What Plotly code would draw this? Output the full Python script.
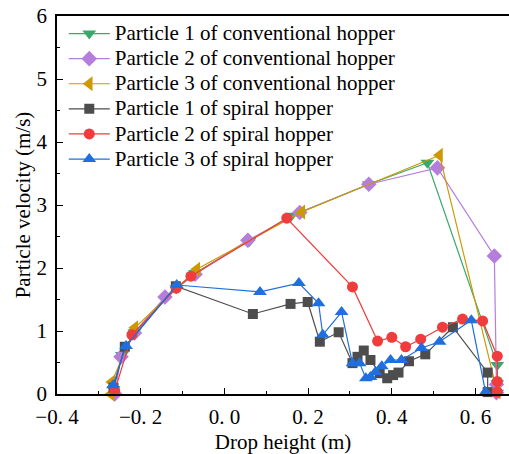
import plotly.graph_objects as go

# Conventional hopper
conv1_x = [-0.265, -0.245, -0.215, -0.115, -0.07, 0.06, 0.16, 0.345, 0.485, 0.652, 0.652, 0.652]
conv1_y = [0.08, 0.62, 0.98, 1.68, 1.92, 2.43, 2.83, 3.33, 3.67, 0.46, 0.17, 0.02]
conv2_x = [-0.262, -0.247, -0.215, -0.142, -0.07, 0.056, 0.18, 0.345, 0.509, 0.645, 0.65, 0.65]
conv2_y = [0.0, 0.59, 0.97, 1.54, 1.90, 2.44, 2.88, 3.33, 3.59, 2.19, 0.15, 0.02]
conv3_x = [-0.271, -0.269, -0.214, -0.066, 0.185, 0.514, 0.652]
conv3_y = [0.0, 0.19, 1.05, 1.98, 2.89, 3.79, 0.03]

# Spiral hopper
spi1_x = [-0.265, -0.238, -0.116, 0.068, 0.158, 0.199, 0.228, 0.273, 0.306, 0.318, 0.333, 0.349,
          0.371, 0.389, 0.403, 0.416, 0.441, 0.48, 0.546, 0.629, 0.629]
spi1_y = [0.1, 0.75, 1.71, 1.27, 1.43, 1.46, 0.83, 0.98, 0.49, 0.59, 0.69, 0.54,
          0.33, 0.25, 0.30, 0.34, 0.52, 0.63, 1.06, 0.34, 0.03]
spi2_x = [-0.262, -0.221, -0.115, -0.08, 0.149, 0.306, 0.366, 0.40, 0.433, 0.469, 0.521, 0.569,
          0.617, 0.652, 0.652, 0.652]
spi2_y = [0.05, 0.94, 1.68, 1.87, 2.79, 1.70, 0.84, 0.90, 0.75, 0.87, 1.06, 1.19,
          1.16, 0.60, 0.20, 0.03]
spi3_x = [-0.266, -0.235, -0.114, 0.085, 0.178, 0.225, 0.235, 0.28, 0.306, 0.323, 0.338, 0.349,
          0.361, 0.376, 0.397, 0.423, 0.471, 0.514, 0.59, 0.624]
spi3_y = [0.14, 0.76, 1.73, 1.62, 1.76, 1.44, 0.94, 1.30, 0.49, 0.49, 0.25, 0.27,
          0.35, 0.44, 0.54, 0.54, 0.73, 0.83, 1.17, 0.03]

names = ["Particle 1 of conventional hopper", "Particle 2 of conventional hopper",
         "Particle 3 of conventional hopper", "Particle 1 of spiral hopper",
         "Particle 2 of spiral hopper", "Particle 3 of spiral hopper"]
colors = ["#3aa86b", "#b57edc", "#cc9900", "#4d4d4d", "#f03c3c", "#1f6fdf"]
symbols = ["triangle-down", "diamond", "triangle-left", "square", "circle", "triangle-up"]
sizes = [12, 12, 13, 10, 11, 12]

xs = [conv1_x, conv2_x, conv3_x, spi1_x, spi2_x, spi3_x]
ys = [conv1_y, conv2_y, conv3_y, spi1_y, spi2_y, spi3_y]

x_tickvals = [-0.4, -0.2, 0.0, 0.2, 0.4, 0.6]
x_ticktext = ["\u22120. 4", "\u22120. 2", "0. 0", "0. 2", "0. 4", "0. 6"]
y_tickvals = [0, 1, 2, 3, 4, 5, 6]

fig = go.Figure()
for i in range(6):
    fig.add_trace(go.Scatter(
        x=xs[i], y=ys[i],
        name="<span style='font-size:21px'>" + names[i] + "</span>",
        mode="lines+markers",
        line=dict(color=colors[i], width=1.2),
        marker=dict(symbol=symbols[i], size=sizes[i], color=colors[i], line=dict(width=0)),
        cliponaxis=False,
    ))

font_family = "Liberation Serif"
fig.update_layout(
    width=509, height=454,
    margin=dict(l=57, r=0, t=16, b=60),
    paper_bgcolor="white", plot_bgcolor="white",
    font=dict(family=font_family, size=21, color="black"),
    showlegend=True,
    legend=dict(x=0.015, y=1.0, xanchor="left", yanchor="top", bgcolor="rgba(0,0,0,0)",
                font=dict(size=17, family=font_family),
                itemwidth=41),
    xaxis=dict(range=[-0.4, 0.68], tickmode="array", tickvals=x_tickvals, ticktext=x_ticktext,
               ticks="inside", ticklen=6, tickcolor="black", showline=True, linecolor="black",
               linewidth=1.5, mirror=True, showgrid=False, zeroline=False,
               minor=dict(ticks="inside", dtick=0.1, ticklen=3, tickcolor="black"),
               ticklabelstandoff=3,
               title=dict(text="Drop height (m)", font=dict(size=21), standoff=6),
               tickfont=dict(size=21)),
    yaxis=dict(range=[0, 6], tickmode="array", tickvals=y_tickvals,
               ticks="inside", ticklen=6, tickcolor="black", showline=True, linecolor="black",
               linewidth=1.5, showgrid=False, zeroline=False,
               minor=dict(ticks="inside", dtick=0.5, ticklen=3, tickcolor="black"),
               ticklabelstandoff=4,
               title=dict(text="Particle velocity (m/s)", font=dict(size=21), standoff=0),
               tickfont=dict(size=21)),
)

fig.write_html("out.html")
